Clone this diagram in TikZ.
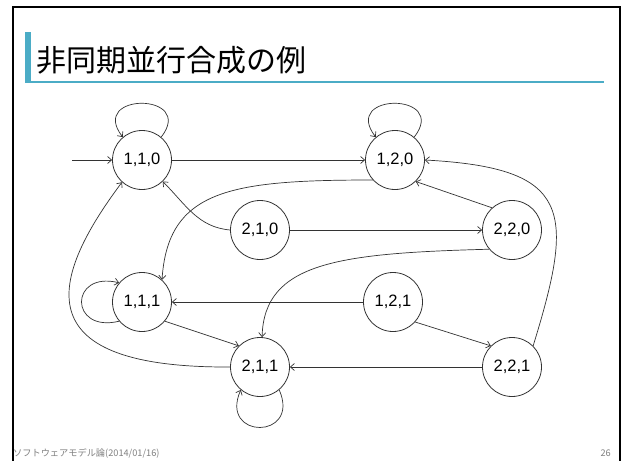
\documentclass[tikz,border=0pt]{standalone}
\usepackage{fontspec}
\setmainfont{Liberation Sans}
\newfontfamily\cjk{Noto Sans CJK JP}
\usetikzlibrary{arrows.meta}
\definecolor{accent}{HTML}{4BACC6}
\definecolor{ink}{HTML}{333333}
\begin{document}
\begin{tikzpicture}[x=1pt,y=1pt,
  st/.style={circle,draw=ink,line width=0.8pt,minimum size=59pt,inner sep=0pt,
    font=\fontsize{16.5}{18}\selectfont},
  edge/.style={draw=ink,line width=0.7pt,-{Straight Barb[length=4pt,width=7pt]}},
  foot/.style={inner sep=0pt,text=black!50,font=\cjk\fontsize{9.2}{10}\selectfont},
]
\useasboundingbox (0,0) rectangle (622,-461);
\fill[white] (0,0) rectangle (622,-461);
% slide frame
\draw[line width=2.5pt] (12.8,-470) -- (12.8,-7) -- (620,-7) -- (620,-470);
% title decoration
\fill[accent] (25,-32) rectangle (30.5,-82);
\fill[accent] (25,-80.5) rectangle (604,-83);
\node[anchor=base west,inner sep=0pt,font=\cjk\fontsize{30}{32}\selectfont] (title) at (36,-71) {非同期並行合成の例};
% footer
\node[foot,anchor=base west] (footer) at (13,-456) {ソフトウェアモデル論(2014/01/16)};
\node[foot,anchor=base east] (page) at (611,-456) {26};
% states
\node[st] (a) at (142,-160) {1,1,0};
\node[st] (b) at (395,-160) {1,2,0};
\node[st] (c) at (260,-230) {2,1,0};
\node[st] (d) at (512,-230) {2,2,0};
\node[st] (e) at (142,-302) {1,1,1};
\node[st] (f) at (393,-302) {1,2,1};
\node[st] (g) at (260,-367) {2,1,1};
\node[st] (h) at (512,-367) {2,2,1};
\coordinate (init) at (72,-160);
% initial
\draw[edge] (init) -- (a);
% self loops
\draw[edge] (a.50) .. controls +(35,45) and +(-35,45) .. (a.130);
\draw[edge] (b.50) .. controls +(35,45) and +(-35,45) .. (b.130);
\draw[edge] (e.220) .. controls +(-50,-12) and +(-50,12) .. (e.140);
\draw[edge] (g.-50) .. controls +(22,-50) and +(-22,-50) .. (g.-130);
% straight transitions
\draw[edge] (a) -- (b);
\draw[edge] (c) -- (d);
\draw[edge] (d.132) -- (b.-46);
\draw[edge] (f) -- (e);
\draw[edge] (e.-40) -- (g.135);
\draw[edge] (f.-42) -- (h.135);
\draw[edge] (h) -- (g);
% curved transitions
\draw[edge] (c.west) to[out=175,in=-45] (a.-46);
\draw[edge] (b.222) .. controls +(-143,0) and +(6,90) .. (e.48);
\draw[edge] (d.220) .. controls +(-150,-4) and +(2,75) .. (g.86);
\draw[edge] (h.45) .. controls (575,-210) and (572,-168) .. (b.east);
\draw[edge] (g.west) .. controls (30,-368) and (45,-285) .. (a.228);
\end{tikzpicture}
\end{document}
